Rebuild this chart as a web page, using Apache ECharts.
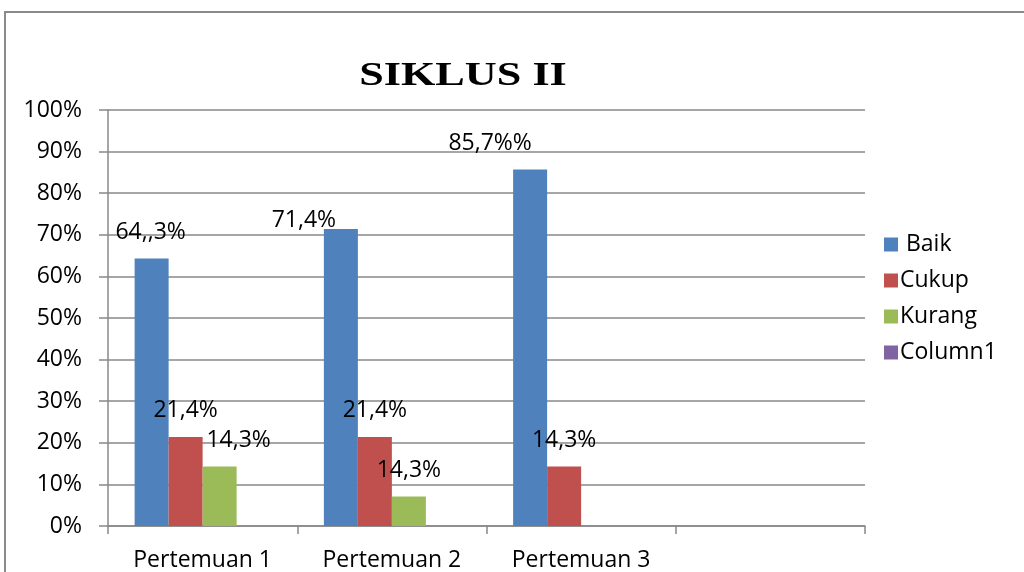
<!DOCTYPE html>
<html>
<head>
<meta charset="utf-8">
<script src="https://cdn.jsdelivr.net/npm/echarts@6/dist/echarts.min.js"></script>
<style>
  html, body { margin: 0; padding: 0; background: #fff; }
  #container { width: 1024px; height: 572px; }
</style>
</head>
<body>
<div id="container"></div>
<script>
// data
var categories = ['Pertemuan 1', 'Pertemuan 2', 'Pertemuan 3', ''];
var baik = [64.3, 71.4, 85.7, null];
var cukup = [21.4, 21.4, 14.3, null];
var kurang = [14.3, 7.1, null, null];
var column1 = [null, null, null, null];
// label texts exactly as written in the chart
var baikText = ['64,,3%', '71,4%', '85,7%%'];
var cukupText = ['21,4%', '21,4%', '14,3%'];
var kurangText = ['14,3%', '14,3%'];
var yTicks = [0, 10, 20, 30, 40, 50, 60, 70, 80, 90, 100];

var dom = document.getElementById('container');
var myChart = echarts.init(dom);
var labelFont = "'Open Sans', sans-serif";

// build bar items, label text + a nudge for the hand-moved labels
function makeItems(values, texts, shifts) {
    var res = [];
    for (var i = 0; i < values.length; i++) {
        var item = { value: values[i] };
        if (texts[i] !== undefined && values[i] != null) {
            item.label = {
                show: true,
                formatter: texts[i],
                offset: (shifts && shifts[i]) ? shifts[i] : [0, 0]
            };
        }
        res.push(item);
    }
    return res;
}

var barLabel = {
    show: false,
    position: 'top',
    distance: 15,
    color: '#000',
    fontFamily: labelFont,
    fontSize: 23
};

option = {
    backgroundColor: '#fff',
    animation: false,
    graphic: [{
        type: 'rect',
        shape: { x: 5, y: 12, width: 1040, height: 600 },
        style: { fill: null, stroke: '#8a8a8a', lineWidth: 2 },
        silent: true
    }, {
        // title is drawn wide and short in the picture
        type: 'text',
        x: 463,
        y: 76,
        scaleX: 1.3,
        style: {
            text: 'SIKLUS II',
            fill: '#000',
            font: "bold 34px 'Liberation Serif', 'Times New Roman', serif",
            textAlign: 'center',
            textVerticalAlign: 'middle'
        },
        silent: true
    }],
    legend: {
        orient: 'vertical',
        left: 879,
        top: 228,
        itemWidth: 14,
        itemHeight: 14,
        itemGap: 13,
        icon: 'rect',
        textStyle: {
            fontFamily: labelFont,
            fontSize: 23,
            color: '#000',
            padding: [0, 0, 0, -3]
        },
        data: [' Baik', 'Cukup', 'Kurang', 'Column1']
    },
    grid: {
        left: 108,
        right: 159,
        top: 110,
        bottom: 46,
        containLabel: false
    },
    xAxis: {
        type: 'category',
        data: categories,
        axisLine: { lineStyle: { color: '#888', width: 1.5 } },
        axisTick: { show: true, length: 8, lineStyle: { color: '#888', width: 1.5 } },
        axisLabel: {
            margin: 23,
            color: '#000',
            fontFamily: labelFont,
            fontSize: 23
        }
    },
    yAxis: {
        type: 'value',
        min: 0,
        max: 100,
        interval: 10,
        axisLine: { show: true, lineStyle: { color: '#888', width: 1.5 } },
        axisTick: { show: true, length: 9, lineStyle: { color: '#888', width: 1.5 } },
        splitLine: { show: true, lineStyle: { color: '#888', width: 1.5 } },
        axisLabel: {
            margin: 26,
            color: '#000',
            fontFamily: labelFont,
            fontSize: 23,
            formatter: function (v) {
                return yTicks.indexOf(v) >= 0 ? v + '%' : '';
            }
        }
    },
    series: [
        {
            name: ' Baik',
            type: 'bar',
            barWidth: 34,
            barGap: '0%',
            itemStyle: { color: '#4F81BD' },
            label: barLabel,
            data: makeItems(baik, baikText, [[-1, 0], [-37, 18], [-40, 0]])
        },
        {
            name: 'Cukup',
            type: 'bar',
            barWidth: 34,
            barGap: '0%',
            itemStyle: { color: '#C0504D' },
            label: barLabel,
            data: makeItems(cukup, cukupText, null)
        },
        {
            name: 'Kurang',
            type: 'bar',
            barWidth: 34,
            barGap: '0%',
            itemStyle: { color: '#9BBB59' },
            label: barLabel,
            data: makeItems(kurang, kurangText, [[19, 0], [0, 0]])
        },
        {
            name: 'Column1',
            type: 'bar',
            barWidth: 34,
            barGap: '0%',
            itemStyle: { color: '#8064A2' },
            data: column1
        }
    ]
};

if (option && typeof option === "object") {
    myChart.setOption(option, true);
}
</script>
</body>
</html>
